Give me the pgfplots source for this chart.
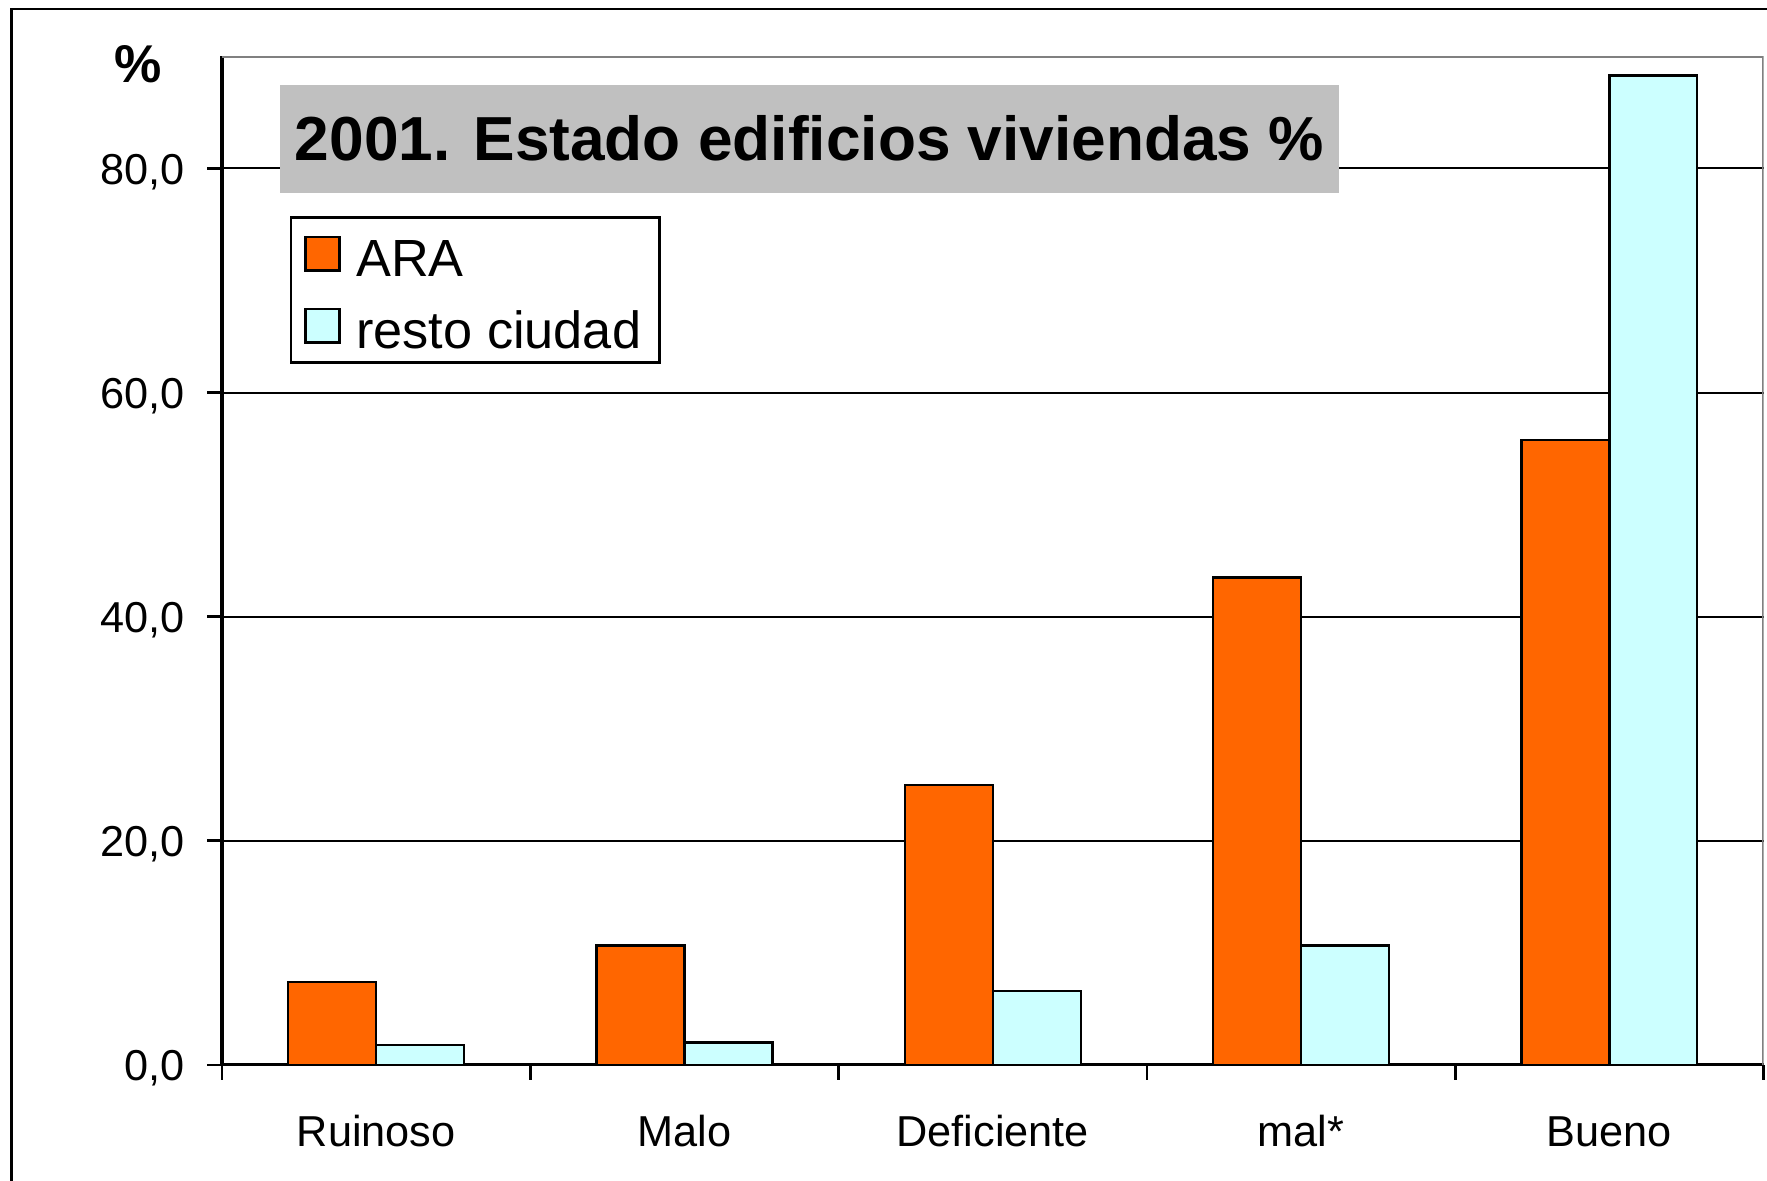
\documentclass[border=0pt]{standalone}
\usepackage{fontspec}
\setmainfont{Liberation Sans}
\usepackage{pgfplots}
\pgfplotsset{compat=1.18}
\definecolor{araorange}{HTML}{FF6600}
\definecolor{restocyan}{HTML}{CCFFFF}
\definecolor{titlegray}{HTML}{C0C0C0}
\begin{document}
\begin{tikzpicture}
\useasboundingbox (0,0) rectangle (392pt,262pt);
\draw[line width=0.6pt] (2.5pt,-5pt) -- (2.5pt,260pt) -- (400pt,260pt);
\node[font=\fontsize{11.8}{14}\selectfont\bfseries, anchor=base] at (30.75pt,243.75pt) {\%};
\begin{axis}[
  at={(49.25pt,25.75pt)}, anchor=south west,
  scale only axis, width=342pt, height=223.75pt,
  xmin=-0.5, xmax=4.5, ymin=0, ymax=90,
  axis x line*=bottom, axis y line*=left,
  axis line style={-, black, line width=0.7pt},
  tick align=outside, major tick length=3.3pt,
  tick style={black, line width=0.6pt},
  xtick={-0.5,0.5,1.5,2.5,3.5,4.5}, xticklabels={},
  extra x ticks={0,1,2,3,4},
  extra x tick labels={Ruinoso,Malo,Deficiente,mal*,Bueno},
  extra x tick style={major tick length=0pt, grid=none},
  xticklabel style={anchor=base, yshift=-18pt, inner sep=0pt},
  ytick={0,20,40,60,80},
  yticklabel style={anchor=base east, inner sep=0pt, xshift=-4.75pt, yshift=-3.45pt,
    /pgf/number format/.cd, fixed, fixed zerofill, precision=1, use comma, assume math mode=true},
  ticklabel style={font=\fontsize{9.6}{11}\selectfont},
  ymajorgrids, grid style={black, line width=0.45pt},
  ybar, bar width=19.5pt,
  legend cell align=left,
  legend style={at={(0.04386,0.8413)}, anchor=north west, draw=black, line width=0.6pt,
    fill=white, font=\fontsize{11.6}{14}\selectfont,
    inner xsep=3pt, inner ysep=3pt, row sep=5.8pt, column sep=2.5pt,
    nodes={inner xsep=1pt, inner ysep=0pt, text height=1.0em, text depth=0.17pt}},
  legend image code/.code={\draw[#1, line width=0.5pt] (0pt,-3.6pt) rectangle (7.5pt,3.9pt);},
]
\addplot[fill=araorange, draw=black, line width=0.5pt, bar shift=-9.75pt]
  coordinates {(0,7.4) (1,10.65) (2,25.0) (3,43.5) (4,55.8)};
\addlegendentry{ARA}
\addplot[fill=restocyan, draw=black, line width=0.5pt, bar shift=9.75pt]
  coordinates {(0,1.8) (1,2.0) (2,6.6) (3,10.65) (4,88.3)};
\addlegendentry{resto ciudad}
\draw[gray, line width=0.6pt] (rel axis cs:0,1) -- (rel axis cs:1,1) -- (rel axis cs:1,0);
\node[fill=titlegray, minimum width=234.75pt, minimum height=24pt, inner sep=0pt,
  font=\fontsize{13.8}{16}\selectfont\bfseries]
  at (axis description cs:0.3811,0.9184) {2001. Estado edificios viviendas \%};
\end{axis}
\end{tikzpicture}
\end{document}
